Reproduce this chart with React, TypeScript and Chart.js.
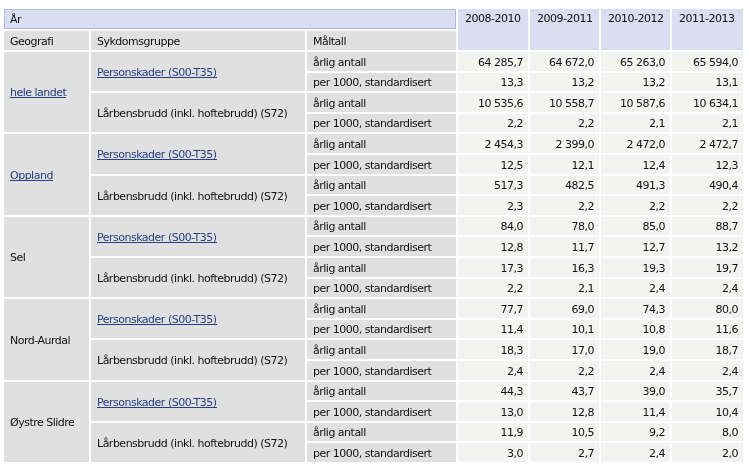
import React, { useEffect, useRef } from 'react';
import { Chart, registerables } from 'chart.js';

Chart.register(...registerables);

// ---------- data ----------
const yearHeaderLabel = 'År';
const headerLabels = ['Geografi', 'Sykdomsgruppe', 'Måltall'];
const geographies = ['hele landet', 'Oppland', 'Sel', 'Nord-Aurdal', 'Øystre Slidre'];
const geographyIsLink = [true, true, false, false, false];
const diseaseGroups = ['Personskader (S00-T35)', 'Lårbensbrudd (inkl. hoftebrudd) (S72)'];
const diseaseIsLink = [true, false];
const measures = ['årlig antall', 'per 1000, standardisert'];
const periods = ['2008-2010', '2009-2011', '2010-2012', '2011-2013'];

const values2008_2010 = [
  64285.7, 13.3, 10535.6, 2.2,
  2454.3, 12.5, 517.3, 2.3,
  84.0, 12.8, 17.3, 2.2,
  77.7, 11.4, 18.3, 2.4,
  44.3, 13.0, 11.9, 3.0,
];
const values2009_2011 = [
  64672.0, 13.2, 10558.7, 2.2,
  2399.0, 12.1, 482.5, 2.2,
  78.0, 11.7, 16.3, 2.1,
  69.0, 10.1, 17.0, 2.2,
  43.7, 12.8, 10.5, 2.7,
];
const values2010_2012 = [
  65263.0, 13.2, 10587.6, 2.1,
  2472.0, 12.4, 491.3, 2.2,
  85.0, 12.7, 19.3, 2.4,
  74.3, 10.8, 19.0, 2.4,
  39.0, 11.4, 9.2, 2.4,
];
const values2011_2013 = [
  65594.0, 13.1, 10634.1, 2.1,
  2472.7, 12.3, 490.4, 2.2,
  88.7, 13.2, 19.7, 2.4,
  80.0, 11.6, 18.7, 2.4,
  35.7, 10.4, 8.0, 2.0,
];
const periodValues = [values2008_2010, values2009_2011, values2010_2012, values2011_2013];

// ---------- layout / style ----------
const COL_WIDTHS = [87, 216, 151, 72, 71, 71, 73];
const HEADER_EDGES = [-0.09, 0.98, 2];
const FONT = '11px "DejaVu Sans", Verdana, sans-serif';
const C_HEADER = '#d9dff1';
const C_HEADER_BORDER = '#a9bde2';
const C_LABEL = '#e0e0e0';
const C_DATA = '#f3f4f2';
const C_TEXT = '#111111';
const C_LINK = '#243f82';

function fmt(n: number): string {
  const [i, d] = n.toFixed(1).split('.');
  const withSpaces = i.replace(/\B(?=(\d{3})+(?!\d))/g, ' ');
  return withSpaces + ',' + d;
}

const colEdges: number[] = [0];
COL_WIDTHS.forEach((w) => colEdges.push(colEdges[colEdges.length - 1] + w));
const firstDataRow = HEADER_EDGES[HEADER_EDGES.length - 1];
const totalRows = firstDataRow + geographies.length * diseaseGroups.length * measures.length;

const tablePlugin = {
  id: 'tableCells',
  afterDraw(chart: any) {
    const ctx: any = chart.ctx;
    const xs = chart.scales.x;
    const ys = chart.scales.y;
    const px = (c: number) => Math.round(xs.getPixelForValue(colEdges[c]));
    const pyv = (v: number) => Math.round(ys.getPixelForValue(v));

    ctx.save();
    ctx.font = FONT;
    if ('letterSpacing' in ctx) ctx.letterSpacing = '-0.5px';

    const cellPx = (c0: number, c1: number, v0: number, v1: number, bg: string, border?: string) => {
      const x0 = px(c0) + 1, x1 = px(c1) - 1, y0 = pyv(v0) + 1, y1 = pyv(v1) - 1;
      ctx.fillStyle = bg;
      ctx.fillRect(x0, y0, x1 - x0, y1 - y0);
      if (border) {
        ctx.strokeStyle = border;
        ctx.lineWidth = 1;
        ctx.strokeRect(x0 + 0.5, y0 + 0.5, x1 - x0 - 1, y1 - y0 - 1);
      }
      return { x0, x1, y0, y1 };
    };

    const text = (s: string, x: number, y: number, align: CanvasTextAlign, link = false) => {
      ctx.textAlign = align;
      ctx.textBaseline = 'alphabetic';
      ctx.fillStyle = link ? C_LINK : C_TEXT;
      ctx.fillText(s, x, y);
      if (link) {
        const w = ctx.measureText(s).width;
        const lx = align === 'right' ? x - w : x;
        ctx.fillRect(Math.round(lx), Math.round(y) + 1, Math.round(w), 1);
      }
    };
    const baseline = (y0: number, y1: number) => Math.round((y0 + y1) / 2 + 4);

    // header row 1: År
    const ar = cellPx(0, 3, HEADER_EDGES[0], HEADER_EDGES[1], C_HEADER, C_HEADER_BORDER);
    text(yearHeaderLabel, ar.x0 + 6, baseline(ar.y0, ar.y1), 'left');
    // period headers
    periods.forEach((p, i) => {
      const c = cellPx(3 + i, 4 + i, HEADER_EDGES[0], HEADER_EDGES[2], C_HEADER);
      text(p, c.x0 + 7, c.y0 + 13, 'left');
    });
    // header row 2
    headerLabels.forEach((h, i) => {
      const c = cellPx(i, i + 1, HEADER_EDGES[1], HEADER_EDGES[2], C_LABEL);
      text(h, c.x0 + 6, baseline(c.y0, c.y1), 'left');
    });

    const perGeo = diseaseGroups.length * measures.length;
    geographies.forEach((g, gi) => {
      const gr = firstDataRow + gi * perGeo;
      const gc = cellPx(0, 1, gr, gr + perGeo, C_LABEL);
      text(g, gc.x0 + 6, baseline(gc.y0, gc.y1), 'left', geographyIsLink[gi]);
      diseaseGroups.forEach((d, di) => {
        const dr = gr + di * measures.length;
        const dc = cellPx(1, 2, dr, dr + measures.length, C_LABEL);
        text(d, dc.x0 + 6, baseline(dc.y0, dc.y1), 'left', diseaseIsLink[di]);
        measures.forEach((m, mi) => {
          const r = dr + mi;
          const mc = cellPx(2, 3, r, r + 1, C_LABEL);
          text(m, mc.x0 + 6, baseline(mc.y0, mc.y1), 'left');
          const idx = r - firstDataRow;
          periodValues.forEach((vals, pi) => {
            const vc = cellPx(3 + pi, 4 + pi, r, r + 1, C_DATA);
            text(fmt(vals[idx]), vc.x1 - 5, baseline(vc.y0, vc.y1), 'right');
          });
        });
      });
    });
    ctx.restore();
  },
};

export default function App() {
  const ref = useRef<HTMLCanvasElement | null>(null);
  useEffect(() => {
    if (!ref.current) return;
    const chart = new Chart(ref.current, {
      type: 'scatter',
      data: { datasets: [{ data: [], pointRadius: 0 }] },
      options: {
        animation: false,
        responsive: true,
        maintainAspectRatio: false,
        layout: { padding: { left: 3, right: 5, top: 8, bottom: 6 } },
        plugins: { legend: { display: false }, tooltip: { enabled: false } },
        scales: {
          x: { type: 'linear', min: 0, max: colEdges[colEdges.length - 1], display: false },
          y: { type: 'linear', min: HEADER_EDGES[0], max: totalRows, reverse: true, display: false },
        },
      },
      plugins: [tablePlugin],
    });
    return () => chart.destroy();
  }, []);
  return (
    <div style={{ position: 'absolute', left: 0, top: 0, width: 749, height: 469 }}>
      <canvas ref={ref} />
    </div>
  );
}
